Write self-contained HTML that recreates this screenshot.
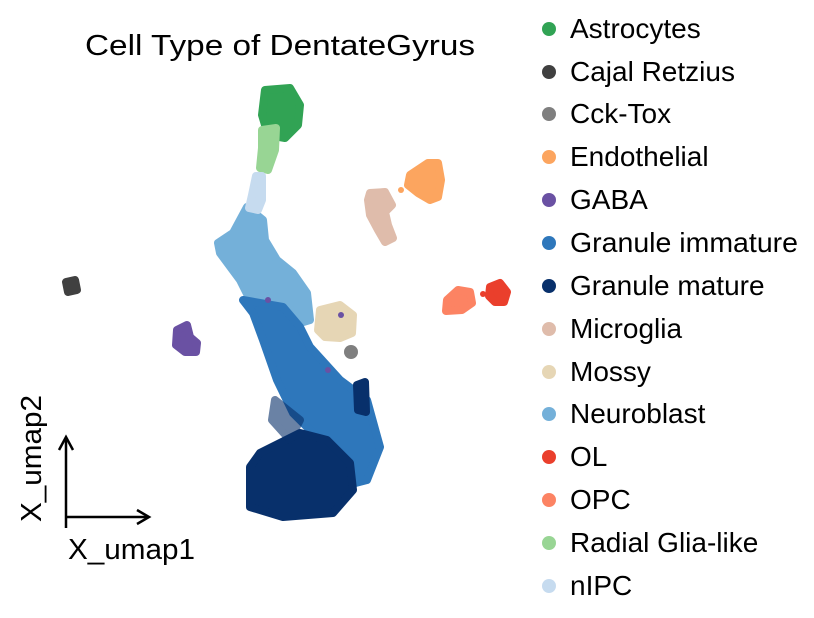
<!DOCTYPE html>
<html><head><style>body{margin:0;background:#fff}svg{display:block}</style></head><body>
<svg width="814" height="618" xmlns="http://www.w3.org/2000/svg" font-family="Liberation Sans, sans-serif">
<text x="85" y="55" font-size="29" textLength="390" lengthAdjust="spacingAndGlyphs" fill="#000">Cell Type of DentateGyrus</text>
<g stroke-linejoin="round" stroke-width="8">
<path d="M247,207 L263,220 265,240 277,260 293,273 307,293 310,320 300,323 293,310 287,313 277,307 250,300 240,280 220,253 218,243 233,233 240,220Z" fill="#74b0d9" stroke="#74b0d9"/>
<path d="M243,300 L283,307 300,327 310,347 340,380 367,400 380,447 367,480 340,487 327,447 293,413 277,380 263,340 253,313Z" fill="#2e77bb" stroke="#2e77bb"/>
<path d="M260,453 L300,433 327,440 350,463 353,490 333,513 283,517 250,507 250,467Z" fill="#08306b" stroke="#08306b"/>
<path d="M357,385 L365,382 366,412 358,410Z" fill="#08306b" stroke="#08306b"/>
<path d="M275,400 L300,420 290,440 272,420Z" fill="#08306b" stroke="#08306b" opacity="0.6"/>
<path d="M265,90 L290,88 300,105 298,125 285,138 268,135 262,115Z" fill="#31a354" stroke="#31a354"/>
<path d="M262,130 L276,128 275,150 268,170 260,168 262,148Z" fill="#98d594" stroke="#98d594"/>
<path d="M256,176 L262,176 262,200 258,210 249,208 252,195Z" fill="#c6dbef" stroke="#c6dbef"/>
<path d="M320,310 L340,305 353,315 352,333 340,338 325,337 318,330Z" fill="#e6d6b5" stroke="#e6d6b5"/>
<circle cx="351" cy="352" r="7" fill="#7f7f7f"/>
<path d="M370,193 L385,192 392,205 385,212 388,225 393,238 385,242 378,230 370,215 368,200Z" fill="#dfbcab" stroke="#dfbcab"/>
<path d="M410,175 L428,163 438,163 441,180 438,197 430,200 418,193 408,185Z" fill="#fca55f" stroke="#fca55f"/>
<circle cx="401" cy="190" r="3" fill="#fca55f"/>
<path d="M447,300 L458,290 470,292 472,303 462,310 446,311Z" fill="#fc8363" stroke="#fc8363"/>
<path d="M490,287 L500,283 507,292 504,302 495,302 489,296Z" fill="#ea3f2c" stroke="#ea3f2c"/>
<circle cx="483" cy="294" r="3" fill="#ea3f2c"/>
<path d="M177,330 L187,325 190,337 197,343 196,352 185,352 176,345Z" fill="#6a51a3" stroke="#6a51a3"/>
<path d="M66,282 L75,280 77,290 68,292Z" fill="#404040" stroke="#404040"/>
</g>
<circle cx="268" cy="300" r="3" fill="#6a51a3"/>
<circle cx="341" cy="315" r="3" fill="#6a51a3"/>
<circle cx="328" cy="370" r="3" fill="#6a51a3"/>
<g stroke="#000" stroke-width="2.5" fill="none">
<line x1="66" y1="528" x2="66" y2="440"/>
<polyline points="59,450 66,437 73,450"/>
<line x1="66" y1="517" x2="147" y2="517"/>
<polyline points="137,510 149,517 137,524"/>
</g>
<text x="68" y="559" font-size="29" textLength="127" lengthAdjust="spacingAndGlyphs">X_umap1</text>
<text transform="translate(41,522) rotate(-90)" font-size="29" textLength="127" lengthAdjust="spacingAndGlyphs">X_umap2</text>
<g font-size="28" fill="#000">
<circle cx="549" cy="29" r="7" fill="#31a354"/><text x="570" y="38">Astrocytes</text>
<circle cx="549" cy="72" r="7" fill="#404040"/><text x="570" y="81">Cajal Retzius</text>
<circle cx="549" cy="114" r="7" fill="#7f7f7f"/><text x="570" y="123">Cck-Tox</text>
<circle cx="549" cy="157" r="7" fill="#fca55f"/><text x="570" y="166">Endothelial</text>
<circle cx="549" cy="200" r="7" fill="#6a51a3"/><text x="570" y="209">GABA</text>
<circle cx="549" cy="243" r="7" fill="#2e77bb"/><text x="570" y="252" textLength="228" lengthAdjust="spacingAndGlyphs">Granule immature</text>
<circle cx="549" cy="286" r="7" fill="#08306b"/><text x="570" y="295">Granule mature</text>
<circle cx="549" cy="329" r="7" fill="#dfbcab"/><text x="570" y="338">Microglia</text>
<circle cx="549" cy="372" r="7" fill="#e6d6b5"/><text x="570" y="381">Mossy</text>
<circle cx="549" cy="414" r="7" fill="#74b0d9"/><text x="570" y="423">Neuroblast</text>
<circle cx="549" cy="457" r="7" fill="#ea3f2c"/><text x="570" y="466">OL</text>
<circle cx="549" cy="500" r="7" fill="#fc8363"/><text x="570" y="509">OPC</text>
<circle cx="549" cy="543" r="7" fill="#98d594"/><text x="570" y="552">Radial Glia-like</text>
<circle cx="549" cy="586" r="7" fill="#c6dbef"/><text x="570" y="595">nIPC</text>
</g>
</svg>
</body></html>
